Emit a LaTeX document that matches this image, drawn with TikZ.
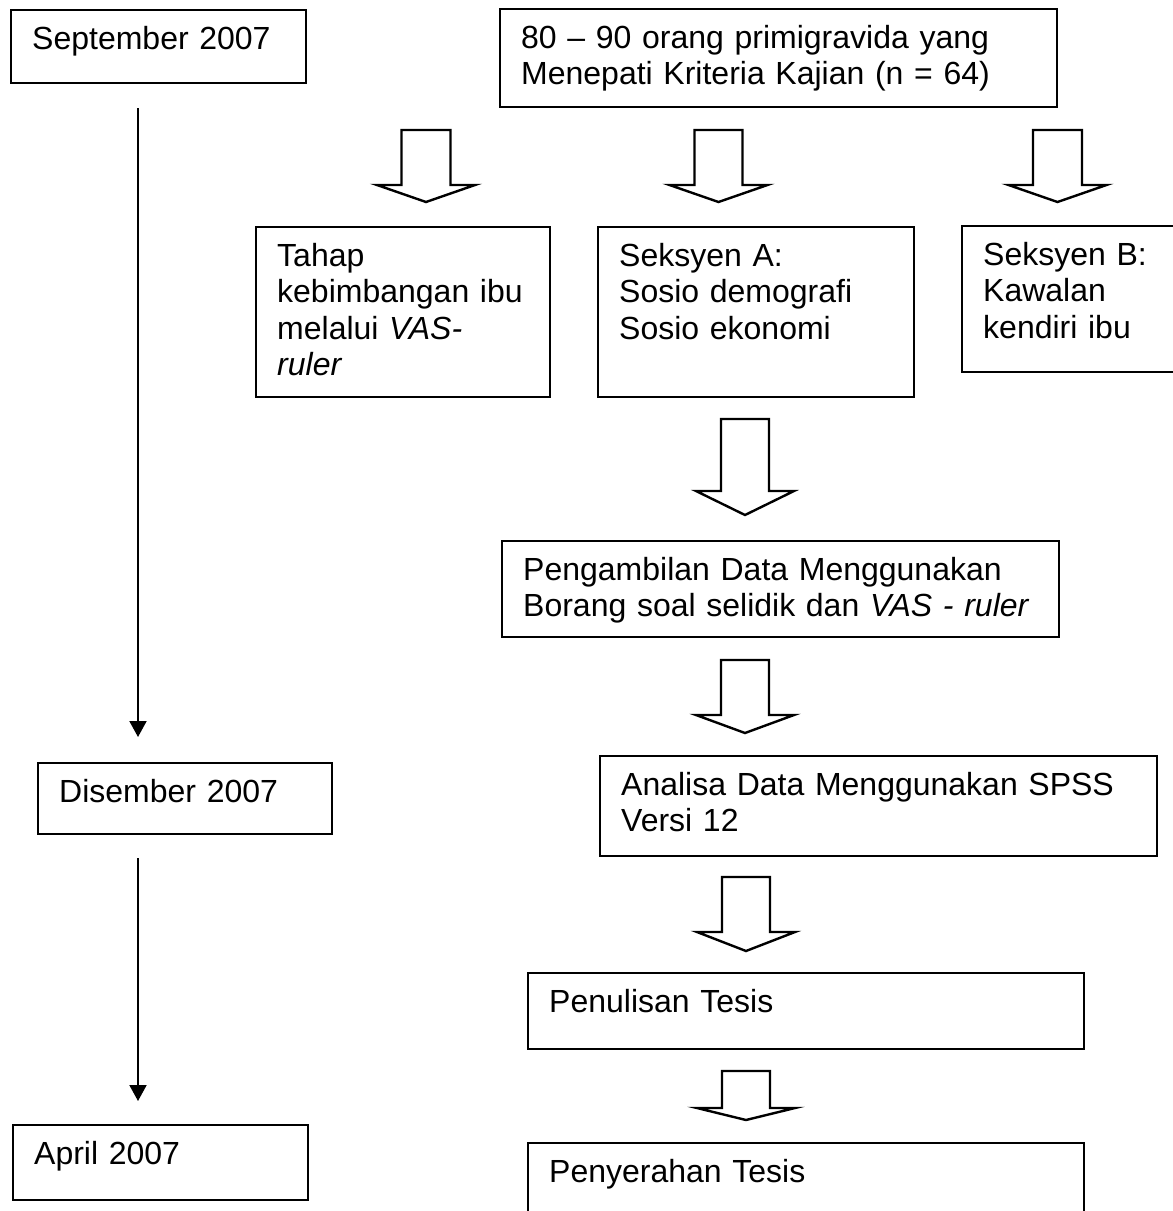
\documentclass[tikz,border=0pt]{standalone}
\usepackage{fontspec}
\setmainfont{Liberation Sans}
\usetikzlibrary{arrows.meta}
\tikzset{box/.style = {draw, line width = 2.4pt, anchor = north west, inner xsep = 21pt, inner ysep = 0pt, text height = 39pt, align = left, font = \fontsize{32}{36.5}\selectfont}}
\tikzset{hollow/.style = {draw, line width = 2.4pt}}
\tikzset{timeline/.style = {line width = 2pt, -{Triangle[length = 16pt, width = 17pt]}}}
\tikzset{pics/blockdown/.style n args = {4}{code = {
  \draw [hollow] (-#1, 0) -- (-#1, #3) -- (-#2, #3) -- (0, #3 + #4) -- (#2, #3) -- (#1, #3) -- (#1, 0) -- cycle;}}}

\begin{document}
\begin{tikzpicture}[x = 1pt, y = -1pt]

    \useasboundingbox (0, 0) rectangle (1173, 1211);
    \clip (0, 0) rectangle (1173, 1211);

    \node [box, text width = 253pt, text depth = 34pt] (sept) at (10, 9) {September 2007};
    \node [box, text width = 252pt, text depth = 32pt] (dis) at (37, 762) {Disember 2007};
    \node [box, text width = 253pt, text depth = 36pt] (april) at (12, 1124) {April 2007};

    \node [box, text width = 515pt, text depth = 59pt] (top) at (499, 8) {80 -- 90 orang primigravida yang\\Menepati Kriteria Kajian (n = 64)};
    \node [box, text width = 252pt, text depth = 131pt] (tahap) at (255, 226) {Tahap\\\mbox{kebimbangan ibu}\\melalui \textit{VAS-}\\\textit{ruler}};
    \node [box, text width = 274pt, text depth = 131pt] (seksa) at (597, 226) {Seksyen A:\\Sosio demografi\\Sosio ekonomi};
    \node [box, text width = 198pt, text depth = 107pt] (seksb) at (961, 225) {Seksyen B:\\Kawalan\\kendiri ibu};
    \node [box, text width = 515pt, text depth = 57pt] (ambil) at (501, 540) {Pengambilan Data Menggunakan\\Borang soal selidik dan \textit{VAS - ruler}};
    \node [box, text width = 515pt, text depth = 61pt] (analisa) at (599, 755) {Analisa Data Menggunakan SPSS\\Versi 12};
    \node [box, text width = 514pt, text depth = 37pt] (tulis) at (527, 972) {Penulisan Tesis};
    \node [box, text width = 514pt, text depth = 80pt] (serah) at (527, 1142) {Penyerahan Tesis};

    \pic at (426, 130) {blockdown = {24.5}{49}{55}{17}};
    \pic at (718.5, 130) {blockdown = {24}{49}{55}{17}};
    \pic at (1057.5, 130) {blockdown = {24.5}{49}{55}{17}};
    \pic at (745, 419) {blockdown = {24}{49}{72}{24}};
    \pic at (745, 660) {blockdown = {24}{49}{55}{18}};
    \pic at (746, 877) {blockdown = {24}{49}{55}{19}};
    \pic at (746, 1071) {blockdown = {24}{49}{37}{12}};

    \coordinate (t1) at (138, 108);
    \coordinate (t2) at (138, 737);
    \coordinate (t3) at (138, 858);
    \coordinate (t4) at (138, 1101);

    \draw [timeline] (t1) -- (t2);
    \draw [timeline] (t3) -- (t4);
  \end{tikzpicture}
\end{document}
